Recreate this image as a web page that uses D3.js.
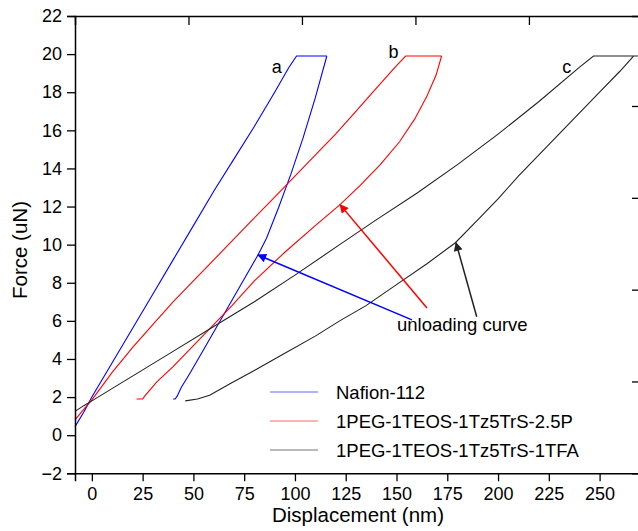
<!DOCTYPE html>
<html>

<head>
    <meta charset="UTF-8">
    <style>
        body { margin: 0; background: #fff; }
        svg { font-family: "Liberation Sans", Arial, sans-serif; }
    </style>
</head>

<body>
    <svg></svg>
    <script src="https://d3js.org/d3.v7.min.js"></script>
    <script>
        let width = 638,
            height = 531;

        // loading / unloading curves, [displacement nm, force uN]
        let nafionLoad = [[-8.3, 0.45], [-4, 1.2], [0, 2.0], [10, 3.8], [20, 5.6], [30, 7.4], [40, 9.2], [50, 11.0],
            [60, 12.8], [70, 14.5], [80, 16.2], [90, 18.0], [97, 19.3], [100.8, 19.9], [108, 19.9], [115.7, 19.9]];
        let nafionUnload = [[115.7, 19.9], [110, 17.7], [104, 15.6], [98, 13.7], [92, 11.96], [86, 10.34],
            [81.8, 9.46], [75, 8.2], [68, 6.9], [61, 5.6], [54, 4.3], [48, 3.2], [44, 2.5], [42, 2.05],
            [41, 1.9], [40, 1.9]];
        let pegPLoad = [[-8.3, 0.8], [-4, 1.35], [0, 1.85], [10, 3.3], [20, 4.6], [30, 5.8], [40, 7.0], [50, 8.1],
            [60, 9.2], [70, 10.3], [80, 11.4], [90, 12.5], [100, 13.6], [110, 14.7], [120, 15.8], [130, 17.0],
            [140, 18.2], [150, 19.4], [154.5, 19.9], [163, 19.9], [172.2, 19.9]];
        let pegPUnload = [[172.2, 19.9], [169.5, 18.9], [165, 17.8], [159, 16.6], [151.5, 15.4], [142, 14.2],
            [132, 13.1], [122.2, 12.1], [110, 11.0], [95, 9.6], [80, 8.1], [69, 6.8], [60, 5.8],
            [50, 4.7], [40, 3.6], [32, 2.8], [26, 2.05], [25, 1.9], [22, 1.9]];
        let tfaLoad = [[-8.3, 1.25], [-4, 1.55], [0, 1.8], [20, 3.1], [40, 4.4], [60, 5.7], [80, 7.0], [100, 8.4],
            [122, 10.0], [140, 11.3], [160, 12.7], [180, 14.2], [200, 15.8], [220, 17.5], [240, 19.3], [247, 19.9],
            [258, 19.9], [269.4, 19.9]];
        let tfaUnload = [[266.7, 19.9], [260, 19.1], [250, 18.0], [240, 16.9], [230, 15.8], [220, 14.7], [210, 13.6],
            [200, 12.4], [190, 11.3], [179, 10.1], [165, 9.0], [150, 7.9], [135, 6.8], [122, 6.0], [110, 5.2],
            [95, 4.3], [80, 3.4], [68, 2.7], [58, 2.1], [52, 1.9], [46, 1.8]];

        let seriesNames = ["Nafion-112", "1PEG-1TEOS-1Tz5TrS-2.5P", "1PEG-1TEOS-1Tz5TrS-1TFA"];
        let seriesColors = ["#0000ff", "#ff0000", "#222222"];
        let legendColors = ["#6666ff", "#ff6666", "#777777"];
        let curveLabels = ["a", "b", "c"];
        let labelPos = [[91, 19.0], [148.5, 19.8], [233.8, 19.0]];

        // arrows: [from, to] in data units
        let arrows = [
            [[157.6, 6.05], [81.8, 9.46]],
            [[165, 6.68], [122.2, 12.1]],
            [[189.5, 6.22], [179.3, 10.1]]
        ];

        let xTicks = [0, 25, 50, 75, 100, 125, 150, 175, 200, 225, 250];
        let yTicks = d3.range(-2, 23, 2);

        let svg = d3.select("svg")
            .attr("width", width)
            .attr("height", height);

        let x = d3.scaleLinear().domain([-8.3, 269.4]).range([75, 639]);
        let y = d3.scaleLinear().domain([-2, 22]).range([473.3, 16]);

        // mirror axes of the original figure use their own spacing
        let xTop = d3.scaleLinear().domain([0, 4.97]).range([75, 639]);
        let yRight = d3.scaleLinear().domain([0, 4.98]).range([473.3, 16]);

        let line = d3.line().x(d => x(d[0])).y(d => y(d[1]));

        let curves = [
            [nafionLoad, nafionUnload],
            [pegPLoad, pegPUnload],
            [tfaLoad, tfaUnload]
        ];

        let plot = svg.append("g");
        curves.forEach((c, i) => {
            c.forEach(pts => {
                plot.append("path")
                    .attr("d", line(pts))
                    .attr("fill", "none")
                    .attr("stroke", seriesColors[i])
                    .attr("stroke-width", 1.1);
            });
        });

        // axes
        let gx = svg.append("g").attr("transform", "translate(0,473.3)");
        gx.call(d3.axisBottom(x).tickValues(d3.range(12.5, 269, 12.5)).tickSize(4).tickFormat(""));
        gx.call(d3.axisBottom(x).tickValues(xTicks).tickSize(8).tickPadding(6).tickFormat(d3.format("d")));

        let gy = svg.append("g").attr("transform", "translate(75,0)");
        gy.call(d3.axisLeft(y).tickValues(d3.range(-1, 22, 2)).tickSize(4).tickFormat(""));
        gy.call(d3.axisLeft(y).tickValues(yTicks).tickSize(8).tickPadding(5).tickFormat(d3.format("d")));

        let gt = svg.append("g").attr("transform", "translate(0,16)");
        gt.call(d3.axisTop(xTop).tickValues([0.5, 1.5, 2.5, 3.5, 4.5]).tickSize(-5).tickFormat(""));
        gt.call(d3.axisTop(xTop).tickValues([1, 2, 3, 4]).tickSize(-9).tickFormat(""));

        let gr = svg.append("g").attr("transform", "translate(639,0)");
        gr.call(d3.axisRight(yRight).tickValues([0.5, 1.5, 2.5, 3.5, 4.5]).tickSize(-3).tickFormat(""));
        gr.call(d3.axisRight(yRight).tickValues([1, 2, 3, 4]).tickSize(-7).tickFormat(""));

        svg.selectAll(".domain").attr("stroke", "#000").attr("stroke-width", 1.5);
        svg.selectAll(".tick line").attr("stroke", "#000").attr("stroke-width", 1.3);
        svg.selectAll(".tick text").attr("font-size", 18).attr("fill", "#000")
            .attr("font-family", "Liberation Sans, Arial, sans-serif");

        svg.append("text")
            .attr("x", 358)
            .attr("y", 522)
            .attr("text-anchor", "middle")
            .attr("font-size", 20.5)
            .text("Displacement (nm)");

        svg.append("text")
            .attr("transform", "translate(27,250) rotate(-90)")
            .attr("text-anchor", "middle")
            .attr("font-size", 20.5)
            .text("Force (uN)");

        // curve letters
        curveLabels.forEach((t, i) => {
            svg.append("text")
                .attr("x", x(labelPos[i][0]))
                .attr("y", y(labelPos[i][1]))
                .attr("text-anchor", "middle")
                .attr("font-size", 18)
                .text(t);
        });

        // arrows
        let defs = svg.append("defs");
        seriesColors.forEach((c, i) => {
            defs.append("marker")
                .attr("id", "arr" + i)
                .attr("viewBox", "0 0 10 10")
                .attr("refX", 9)
                .attr("refY", 5)
                .attr("markerWidth", 11)
                .attr("markerHeight", 9)
                .attr("markerUnits", "userSpaceOnUse")
                .attr("orient", "auto")
                .append("path")
                .attr("d", "M0,0 L10,5 L0,10 Z")
                .attr("fill", c);
        });
        arrows.forEach((a, i) => {
            svg.append("line")
                .attr("x1", x(a[0][0])).attr("y1", y(a[0][1]))
                .attr("x2", x(a[1][0])).attr("y2", y(a[1][1]))
                .attr("stroke", seriesColors[i])
                .attr("stroke-width", 1.5)
                .attr("marker-end", "url(#arr" + i + ")");
        });

        svg.append("text")
            .attr("x", 397)
            .attr("y", 331)
            .attr("font-size", 18.5)
            .text("unloading curve");

        // legend
        let legend = svg.append("g");
        seriesNames.forEach((n, i) => {
            let ly = 392 + i * 29;
            legend.append("line")
                .attr("x1", 270).attr("x2", 318)
                .attr("y1", ly).attr("y2", ly)
                .attr("stroke", legendColors[i])
                .attr("stroke-width", 1.2);
            legend.append("text")
                .attr("x", 336)
                .attr("y", ly + 6.5)
                .attr("font-size", 18.5)
                .text(n);
        });
    </script>
</body>

</html>
